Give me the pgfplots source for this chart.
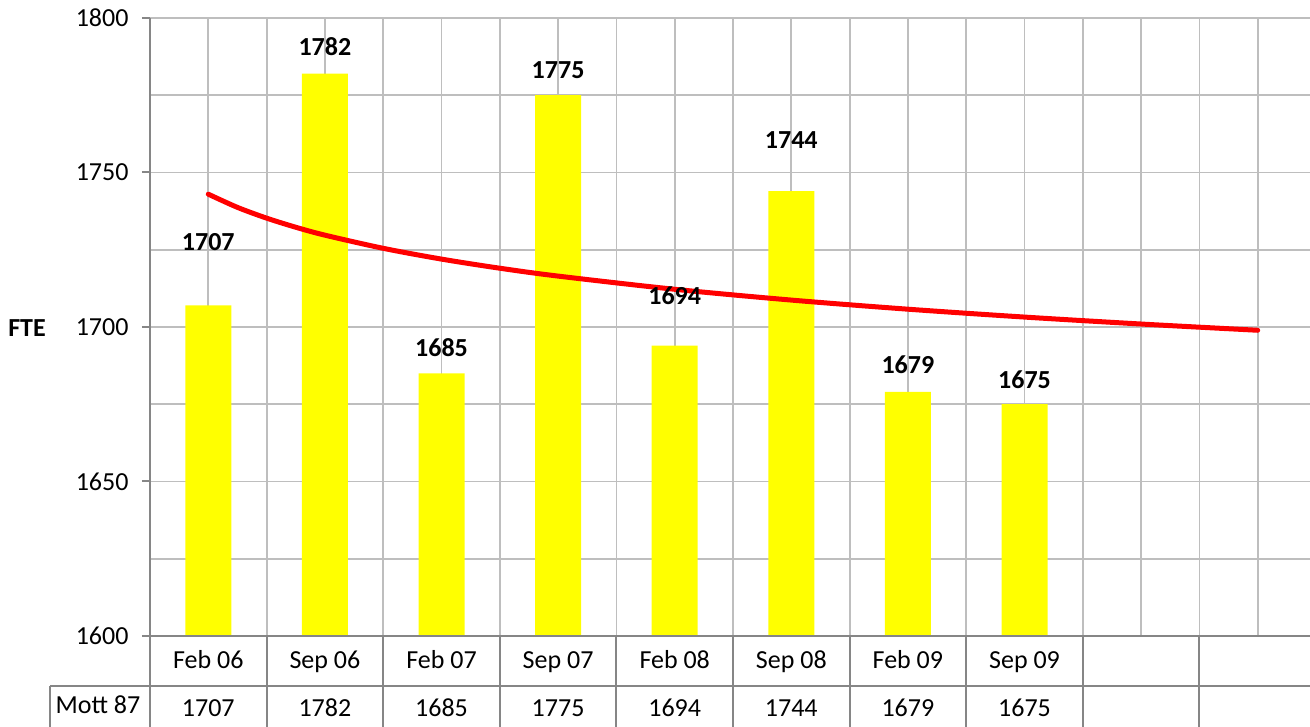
\documentclass[border=0pt]{standalone}
\usepackage{fontspec}
\setmainfont{Carlito}
\usepackage{pgfplots}
\pgfplotsset{compat=1.18}
\definecolor{axgray}{RGB}{134,134,134}
\definecolor{grgray}{RGB}{190,190,190}
\definecolor{baryellow}{RGB}{255,255,0}
\definecolor{trendred}{RGB}{255,0,0}
\newcommand{\bigf}{\fontsize{26}{31}\selectfont}
\begin{document}
\begin{tikzpicture}
\useasboundingbox (0pt,0pt) rectangle (1310pt,727pt);
\begin{axis}[
  at={(150pt,91pt)}, anchor=south west,
  scale only axis, width=1160pt, height=618pt,
  xmin=0.5, xmax=10.449, ymin=1600, ymax=1800,
  axis x line*=bottom, axis y line*=left,
  axis line style={draw=axgray, line width=2pt},
  ytick={1600,1650,...,1800},
  minor ytick={1625,1675,1725,1775},
  xtick={1,...,8},
  xticklabels={Feb 06,Sep 06,Feb 07,Sep 07,Feb 08,Sep 08,Feb 09,Sep 09},
  minor xtick={0.5,1,...,10.5},
  ymajorgrids, yminorgrids, xminorgrids,
  major grid style={draw=grgray, line width=1.8pt},
  minor grid style={draw=grgray, line width=1.8pt},
  ytick align=outside,
  major tick length=8pt, minor tick length=0pt,
  ytick style={draw=axgray, line width=2pt},
  xtick style={draw=none},
  tick label style={font=\bigf, text=black},
  /pgf/number format/assume math mode=true,
  /pgf/number format/1000 sep={},
  yticklabel style={anchor=east, xshift=-10pt},
  xticklabel style={anchor=base, yshift=-33pt},
  extra x ticks={1,...,8},
  extra x tick labels={1707,1782,1685,1775,1694,1744,1679,1675},
  extra x tick style={grid=none, xticklabel style={yshift=-47.5pt}},
]
\addplot[ybar, bar width=46pt, fill=baryellow, draw=none] coordinates {
  (1,1707) (2,1782) (3,1685) (4,1775) (5,1694) (6,1744) (7,1679) (8,1675)};
\addplot[draw=none, nodes near coords, point meta=explicit symbolic,
  every node near coord/.append style={anchor=center, font=\bigf\bfseries, text=black}]
  coordinates {
  (1,1727.5)[1707] (2,1790.6)[1782] (3,1693.2)[1685] (4,1783.2)[1775]
  (5,1710.0)[1694] (6,1760.5)[1744] (7,1687.7)[1679] (8,1682.8)[1675]};
\addplot[trendred, line width=5pt, line cap=round, smooth] coordinates {
  (1,1742.98) (1.25,1738.71) (1.5,1735.23) (1.75,1732.28) (2,1729.72)
  (2.5,1725.46) (3,1721.97) (3.5,1719.02) (4,1716.47) (5,1712.20)
  (6,1708.71) (7,1705.76) (8,1703.21) (9,1700.96) (10,1698.94)};
\end{axis}
% data table grid
\draw[axgray, line width=2pt] (150pt,91pt) -- (1310pt,91pt);
\draw[axgray, line width=2pt] (50pt,41pt) -- (1310pt,41pt);
\draw[axgray, line width=2pt] (50pt,41pt) -- (50pt,0pt);
\foreach \k in {0,...,9}{
  \draw[axgray, line width=2pt] ({150+116.6*\k pt},91pt) -- ({150+116.6*\k pt},0pt);
}
\node[anchor=base, font=\bigf, inner sep=0pt] at (98pt,13.7pt) {Mott 87};
\node[anchor=base, font=\bigf\bfseries, inner sep=0pt] at (27pt,390.3pt) {FTE};
\end{tikzpicture}
\end{document}
